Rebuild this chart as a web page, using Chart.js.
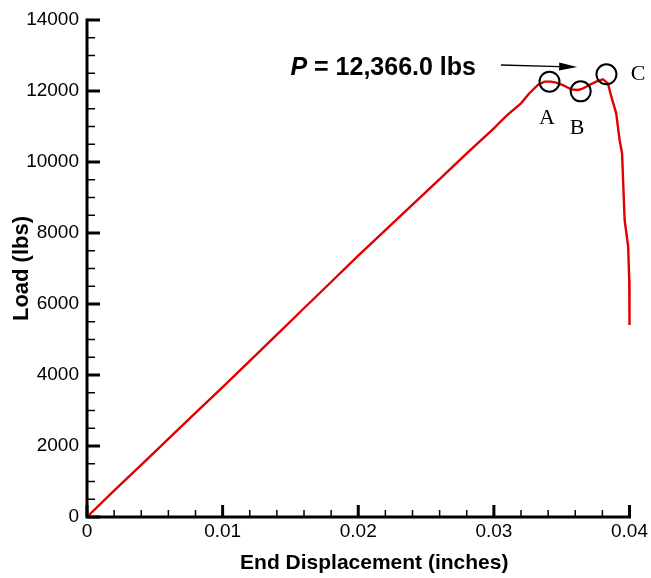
<!DOCTYPE html>
<html><head><meta charset="utf-8">
<script src="https://cdn.jsdelivr.net/npm/chart.js@4.4.1/dist/chart.umd.min.js"></script>
<style>html,body{margin:0;padding:0;background:#fff;}</style>
</head><body>
<canvas id="c" width="651" height="578"></canvas>
<script>
// ---- data ----
const displacement = [0, 0.002, 0.004, 0.006, 0.008, 0.010, 0.012, 0.014, 0.016, 0.018, 0.020,
  0.022, 0.024, 0.026, 0.028, 0.030, 0.0305, 0.031, 0.032, 0.0326, 0.03324, 0.03373, 0.0342, 0.03459,
  0.03508, 0.0357, 0.03619, 0.0365, 0.03681, 0.0372, 0.03755, 0.03804, 0.03841, 0.03866,
  0.03902, 0.03927, 0.03945, 0.03964, 0.03990, 0.03998, 0.04000];
const loadLbs = [0, 740, 1470, 2200, 2930, 3660, 4400, 5140, 5880, 6620, 7360,
  8080, 8800, 9520, 10240, 10950, 11141, 11330, 11653, 11930, 12169, 12263, 12265, 12235,
  12169, 12046, 12028, 12060, 12121, 12200, 12263, 12330, 12216, 11840,
  11371, 10620, 10245, 8366, 7614, 6676, 5408];

const markerNames = ['A', 'B', 'C'];
const markerDisp = [0.03410, 0.03640, 0.03830];
const markerLoad = [12262, 11990, 12470];
const markerLabelDisp = [0.03392, 0.03614, 0.04063];
const markerLabelLoad = [11231, 10949, 12470];

const peakText = ' = 12,366.0 lbs';
const peakTextPos = [0.01500, 12640];
const arrowFrom = [0.03052, 12732];
const arrowTo = [0.03614, 12676];

const xTickValues = [0, 0.01, 0.02, 0.03, 0.04];
const xTickLabels = ['0', '0.01', '0.02', '0.03', '0.04'];
const yTickValues = [0, 2000, 4000, 6000, 8000, 10000, 12000, 14000];
const yTickLabels = ['0', '2000', '4000', '6000', '8000', '10000', '12000', '14000'];
const xMinorStep = 0.002, yMinorStep = 500;

const xTitle = 'End Displacement (inches)';
const yTitle = 'Load (lbs)';

// ---- chart ----
Chart.defaults.font.family = "'Liberation Sans', Arial, sans-serif";
Chart.defaults.color = '#000';

const overlay = {
  id: 'overlay',
  afterDatasetsDraw(chart) {
    const {ctx, chartArea: {left, right, top, bottom}, scales: {x, y}} = chart;
    ctx.save();
    ctx.strokeStyle = '#000';
    ctx.fillStyle = '#000';
    // ticks (inward)
    const nX = Math.round((x.max - x.min) / xMinorStep);
    for (let i = 0; i <= nX; i++) {
      const v = x.min + i * xMinorStep;
      const major = i % 5 === 0;
      const px = x.getPixelForValue(v);
      ctx.lineWidth = major ? 3 : 1.5;
      ctx.beginPath(); ctx.moveTo(px, bottom); ctx.lineTo(px, bottom - (major ? 12 : 7)); ctx.stroke();
    }
    const nY = Math.round((y.max - y.min) / yMinorStep);
    for (let i = 0; i <= nY; i++) {
      const v = y.min + i * yMinorStep;
      const major = i % 4 === 0;
      const py = y.getPixelForValue(v);
      ctx.lineWidth = major ? 3 : 1.5;
      ctx.beginPath(); ctx.moveTo(left, py); ctx.lineTo(left + (major ? 13 : 8), py); ctx.stroke();
    }
    // axis lines
    ctx.lineWidth = 3;
    ctx.beginPath();
    ctx.moveTo(left, top - 1.5); ctx.lineTo(left, bottom); ctx.lineTo(right + 1.5, bottom);
    ctx.stroke();

    // x axis title
    ctx.font = "bold 21px 'Liberation Sans', Arial, sans-serif";
    ctx.textAlign = 'center'; ctx.textBaseline = 'middle';
    ctx.fillText(xTitle, (left + right) / 2 + 16, 563);

    // marker labels
    ctx.font = "22px 'Liberation Serif', 'Times New Roman', serif";
    markerNames.forEach((n, i) => {
      ctx.fillText(n, x.getPixelForValue(markerLabelDisp[i]), y.getPixelForValue(markerLabelLoad[i]));
    });

    // peak text
    const tx = x.getPixelForValue(peakTextPos[0]);
    const ty = y.getPixelForValue(peakTextPos[1]);
    ctx.textAlign = 'left';
    ctx.font = "italic bold 25px 'Liberation Sans', Arial, sans-serif";
    ctx.fillText('P', tx, ty);
    const pw = ctx.measureText('P').width;
    ctx.font = "bold 25px 'Liberation Sans', Arial, sans-serif";
    ctx.fillText(peakText, tx + pw, ty);

    // arrow
    const ax0 = x.getPixelForValue(arrowFrom[0]), ay0 = y.getPixelForValue(arrowFrom[1]);
    const ax1 = x.getPixelForValue(arrowTo[0]), ay1 = y.getPixelForValue(arrowTo[1]);
    const ang = Math.atan2(ay1 - ay0, ax1 - ax0);
    const hl = 18, hw = 4;
    ctx.lineWidth = 1.3;
    ctx.beginPath(); ctx.moveTo(ax0, ay0);
    ctx.lineTo(ax1 - hl * Math.cos(ang), ay1 - hl * Math.sin(ang)); ctx.stroke();
    ctx.beginPath();
    ctx.moveTo(ax1, ay1);
    ctx.lineTo(ax1 - hl * Math.cos(ang) + hw * Math.sin(ang), ay1 - hl * Math.sin(ang) - hw * Math.cos(ang));
    ctx.lineTo(ax1 - hl * Math.cos(ang) - hw * Math.sin(ang), ay1 - hl * Math.sin(ang) + hw * Math.cos(ang));
    ctx.closePath(); ctx.fill();
    ctx.restore();
  }
};

new Chart(document.getElementById('c'), {
  type: 'scatter',
  data: {
    datasets: [
      {
        data: displacement.map((d, i) => ({x: d, y: loadLbs[i]})),
        showLine: true,
        borderColor: '#e00000',
        borderWidth: 2.4,
        pointRadius: 0,
        tension: 0,
        clip: false,
        order: 2
      },
      {
        data: markerDisp.map((d, i) => ({x: d, y: markerLoad[i]})),
        showLine: false,
        pointRadius: 10,
        pointBorderWidth: 2,
        pointBorderColor: '#000',
        pointBackgroundColor: 'rgba(0,0,0,0)',
        clip: false,
        order: 1
      }
    ]
  },
  options: {
    responsive: false,
    animation: false,
    events: [],
    layout: {padding: {left: 0, top: 20, right: 21, bottom: 0}},
    plugins: {legend: {display: false}, tooltip: {enabled: false}},
    scales: {
      x: {
        type: 'linear', min: 0, max: 0.04,
        afterFit(s) { s.height = 61; },
        afterBuildTicks(s) { s.ticks = xTickValues.map(v => ({value: v})); },
        grid: {display: false, drawTicks: false},
        border: {display: false},
        ticks: {
          padding: 3,
          font: {size: 19},
          color: '#000',
          maxRotation: 0,
          autoSkip: false,
          callback: (v, i) => xTickLabels[i]
        },
        title: {display: false}
      },
      y: {
        type: 'linear', min: 0, max: 14000,
        afterFit(s) { s.width = 87; },
        afterBuildTicks(s) { s.ticks = yTickValues.map(v => ({value: v})); },
        grid: {display: false, drawTicks: false},
        border: {display: false},
        ticks: {
          padding: 8,
          font: {size: 19},
          color: '#000',
          autoSkip: false,
          callback: (v, i) => yTickLabels[i]
        },
        title: {display: true, text: yTitle, font: {size: 22, weight: 'bold'}, color: '#000', padding: {top: 9, bottom: 0}}
      }
    }
  },
  plugins: [overlay]
});
</script>
</body></html>
